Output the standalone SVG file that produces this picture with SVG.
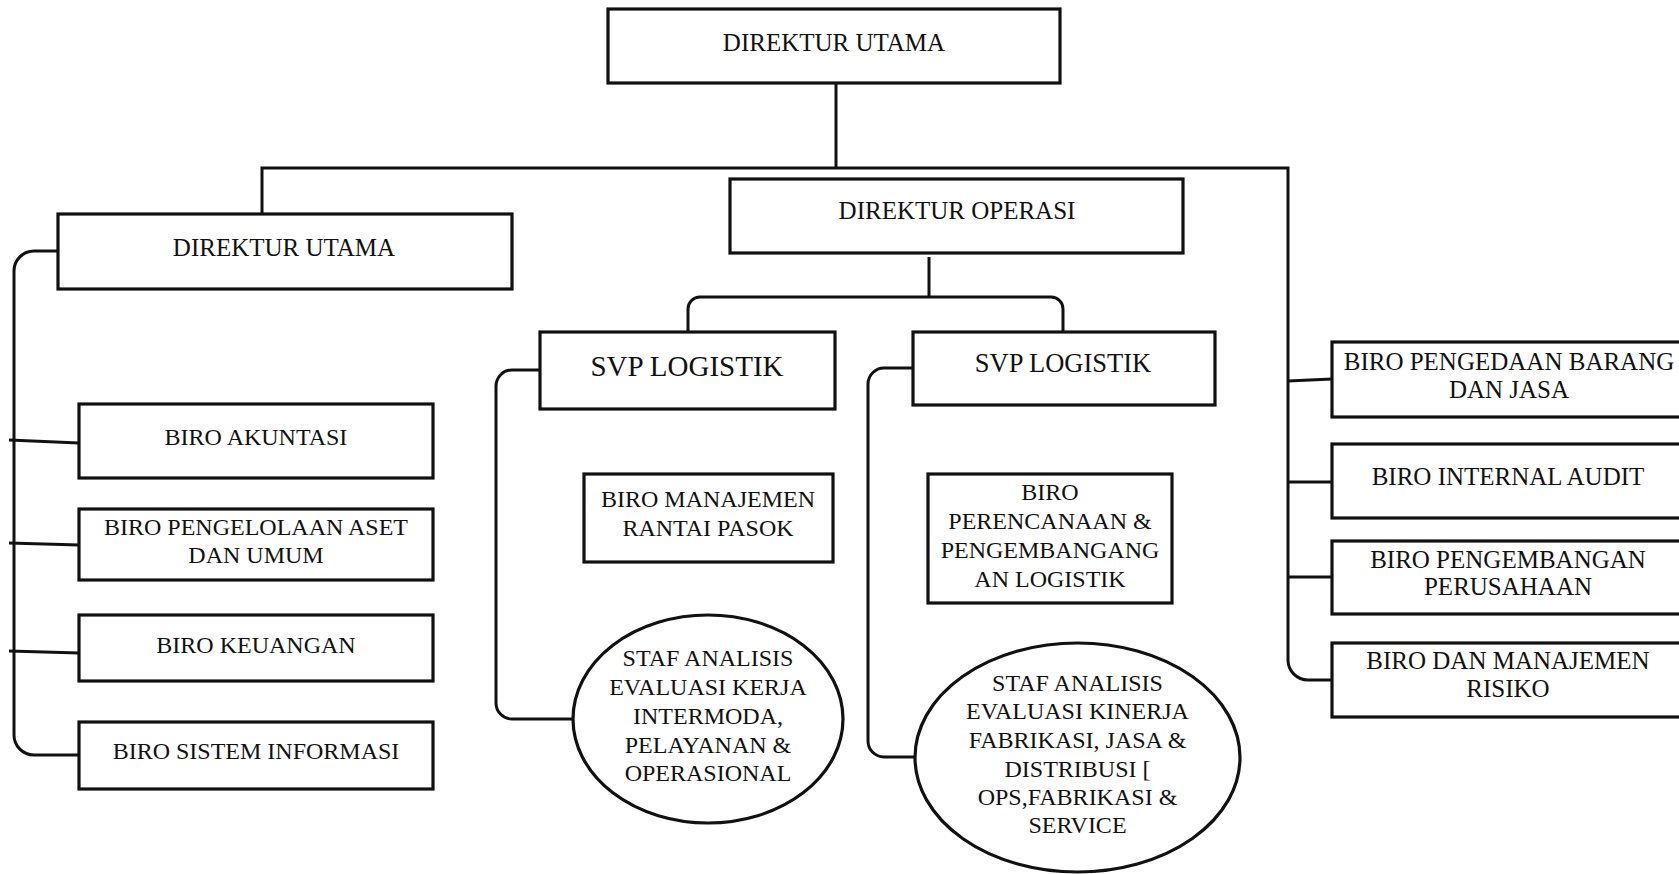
<svg xmlns="http://www.w3.org/2000/svg" width="1679" height="874" viewBox="0 0 1679 874">
<style>
.box{fill:#fff;stroke:#111;stroke-width:3.2}
.ln{fill:none;stroke:#111;stroke-width:3}
text{font-family:"Liberation Serif","Times New Roman",serif;fill:#111;text-anchor:middle;font-size:24px}
.d{font-size:25px}
.r{font-size:25px}
</style>
<rect width="1679" height="874" fill="#fff"/>
<g id="connectors">
<path class="ln" d="M836,83 V168"/>
<path class="ln" d="M262,214 V168 H1288 V660 A20,20 0 0 0 1308,680 H1332"/>
<path class="ln" d="M1288,381 L1332,379 M1288,482 H1332 M1288,577 H1332"/>
<path class="ln" d="M58,251 H34 A20,20 0 0 0 14,271 V735 A20,20 0 0 0 34,755 H79"/>
<path class="ln" d="M9,440 L79,443 M9,543 L79,545 M9,651 L79,653"/>
<path class="ln" d="M929,257 V297"/>
<path class="ln" d="M688,332 V309 A12,12 0 0 1 700,297 H1051 A12,12 0 0 1 1063,309 V332"/>
<path class="ln" d="M539,370 H512 A16,16 0 0 0 496,386 V703 A16,16 0 0 0 512,719 H573"/>
<path class="ln" d="M913,368 H884 A16,16 0 0 0 868,384 V741 A16,16 0 0 0 884,757 H915"/>
</g>
<g id="direktur-utama-top"><rect class="box" x="608" y="9" width="452" height="74"/><text class="d" x="834" y="51">DIREKTUR UTAMA</text></g>
<g id="direktur-utama-left"><rect class="box" x="58" y="214" width="454" height="75"/><text class="d" x="284" y="256">DIREKTUR UTAMA</text></g>
<g id="direktur-operasi"><rect class="box" x="730" y="179" width="453" height="74"/><text class="d" x="957" y="219">DIREKTUR OPERASI</text></g>
<g id="biro-akuntasi"><rect class="box" x="79" y="404" width="354" height="74"/><text x="256" y="445">BIRO AKUNTASI</text></g>
<g id="biro-pengelolaan"><rect class="box" x="79" y="509" width="354" height="71"/><text x="256" y="535">BIRO PENGELOLAAN ASET</text><text x="256" y="563">DAN UMUM</text></g>
<g id="biro-keuangan"><rect class="box" x="79" y="615" width="354" height="66"/><text x="256" y="653">BIRO KEUANGAN</text></g>
<g id="biro-sistem"><rect class="box" x="79" y="722" width="354" height="67"/><text x="256" y="759">BIRO SISTEM INFORMASI</text></g>
<g id="svp-logistik-1"><rect class="box" x="540" y="332" width="295" height="77"/><text x="687" y="376" style="font-size:29px">SVP LOGISTIK</text></g>
<g id="biro-rantai-pasok"><rect class="box" x="584" y="474" width="249" height="88"/><text x="708" y="507">BIRO MANAJEMEN</text><text x="708" y="536">RANTAI PASOK</text></g>
<g id="staf-analisis-1"><ellipse class="box" cx="708" cy="719" rx="135" ry="104"/><text x="708" y="666">STAF ANALISIS</text><text x="708" y="695">EVALUASI KERJA</text><text x="708" y="724">INTERMODA,</text><text x="708" y="753">PELAYANAN &amp;</text><text x="708" y="781">OPERASIONAL</text></g>
<g id="svp-logistik-2"><rect class="box" x="913" y="332" width="302" height="73"/><text x="1063" y="372" style="font-size:26.5px">SVP LOGISTIK</text></g>
<g id="biro-perencanaan"><rect class="box" x="928" y="474" width="244" height="129"/><text x="1050" y="500">BIRO</text><text x="1050" y="529">PERENCANAAN &amp;</text><text x="1050" y="558">PENGEMBANGANG</text><text x="1050" y="587">AN LOGISTIK</text></g>
<g id="staf-analisis-2"><ellipse class="box" cx="1077.5" cy="757.5" rx="162.5" ry="114.5"/><text x="1077.5" y="691">STAF ANALISIS</text><text x="1077.5" y="719">EVALUASI KINERJA</text><text x="1077.5" y="748">FABRIKASI, JASA &amp;</text><text x="1077.5" y="777">DISTRIBUSI [</text><text x="1077.5" y="805">OPS,FABRIKASI &amp;</text><text x="1077.5" y="833">SERVICE</text></g>
<g id="biro-pengedaan"><rect class="box" x="1332" y="342" width="352" height="75"/><text class="r" x="1509" y="370">BIRO PENGEDAAN BARANG</text><text class="r" x="1509" y="398">DAN JASA</text></g>
<g id="biro-internal-audit"><rect class="box" x="1332" y="444" width="352" height="74"/><text class="r" x="1508" y="485">BIRO INTERNAL AUDIT</text></g>
<g id="biro-pengembangan"><rect class="box" x="1332" y="541" width="352" height="73"/><text class="r" x="1508" y="568">BIRO PENGEMBANGAN</text><text class="r" x="1508" y="595">PERUSAHAAN</text></g>
<g id="biro-risiko"><rect class="box" x="1332" y="643" width="352" height="74"/><text class="r" x="1508" y="669">BIRO DAN MANAJEMEN</text><text class="r" x="1508" y="697">RISIKO</text></g>
</svg>
